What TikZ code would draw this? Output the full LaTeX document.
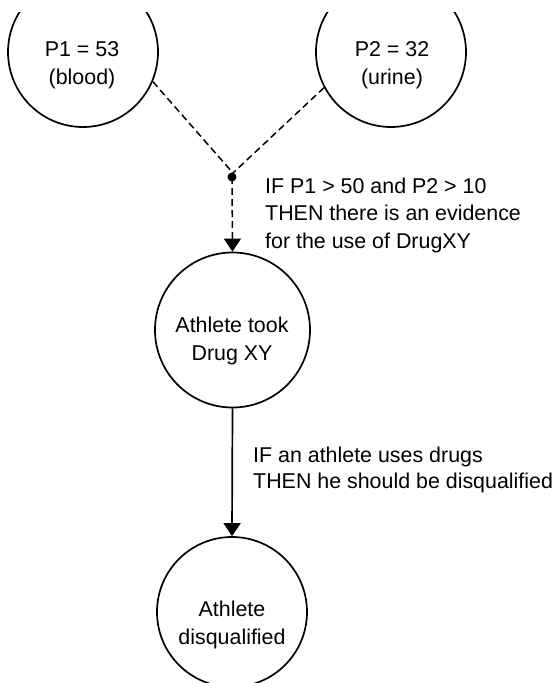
\documentclass[tikz,border=0pt]{standalone}
\usepackage{fontspec}
\setmainfont{Liberation Sans}
\usetikzlibrary{arrows.meta}
\begin{document}
\begin{tikzpicture}[x=1pt,y=-1pt,
  circ/.style={circle,draw,line width=1.7pt,inner sep=0pt},
  txt/.style={font=\fontsize{21.4}{28}\selectfont,inner sep=0pt,align=center,anchor=base},
  lbl/.style={font=\fontsize{21.4}{27.5}\selectfont,inner sep=0pt,align=left,anchor=base west},
  dashline/.style={line width=1.5pt,dash pattern=on 7pt off 4pt},
  tip/.style={-{Triangle[length=13pt,width=17pt]}},
  dotnode/.style={circle,fill,minimum size=9pt,inner sep=0pt}]
\useasboundingbox (0,0) rectangle (558,683);
\begin{scope}
\clip (0,12) rectangle (558,683);
\node[circ,minimum size=150pt] (p1) at (83,52) {};
\node[circ,minimum size=150pt] (p2) at (391,52) {};
\node[circ,minimum size=155pt] (p3) at (232.5,330) {};
\node[circ,minimum size=150pt] (p4) at (232,612) {};
\node[txt] (t1) at (82,84) {P1 = 53\\(blood)};
\node[txt] (t2) at (392,84) {P2 = 32\\(urine)};
\node[txt] (t3) at (232,360) {Athlete took\\Drug XY};
\node[txt] (t4) at (232,644.5) {Athlete\\disqualified};
\coordinate (j) at (233,173);
\node[dotnode] (d) at (232,177) {};
\draw[dashline] (p1.-23) -- (j);
\draw[dashline] (p2.-152) -- (j);
\draw[dashline,tip] (d.center) -- (p3.north);
\draw[line width=1.7pt,tip] (p3.south) -- (p4.north);
\node[lbl] (r1) at (265,248) {IF P1 > 50 and P2 > 10\\THEN there is an evidence\\for the use of DrugXY};
\node[lbl,font=\fontsize{21.4}{26}\selectfont] (r2) at (253,488) {IF an athlete uses drugs\\THEN he should be disqualified};
\end{scope}
\end{tikzpicture}
\end{document}
